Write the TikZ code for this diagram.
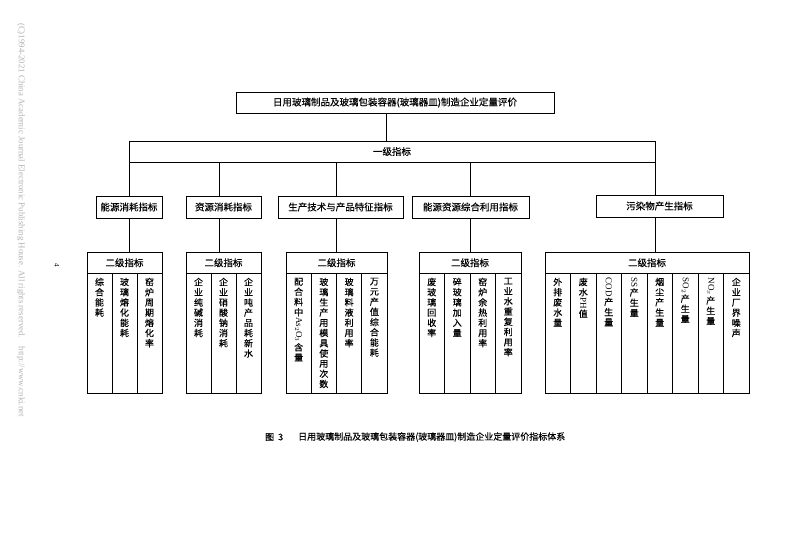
\documentclass[tikz,border=0pt]{standalone}
\usepackage{fontspec}
\setmainfont{Liberation Serif}
\newfontfamily\cjk[FakeBold=0.35]{Noto Sans CJK SC}
\newcommand{\rt}[1]{\rotatebox[origin=c]{-90}{\rmfamily #1}}
\tikzset{
  bx/.style={draw, line width=0.8pt, inner sep=0pt, font=\cjk\fontsize{9.5}{11}\selectfont},
  colbox/.style={draw, line width=0.8pt, minimum height=120pt, inner sep=0pt},
  coltext/.style={anchor=north, align=center, inner sep=0pt, font=\cjk\fontsize{9}{10.2}\selectfont},
  ln/.style={line width=0.8pt}
}
\begin{document}
\begin{tikzpicture}[x=1pt,y=-1pt]
\useasboundingbox (0,0) rectangle (793,545);
% watermark and page number
\node[rotate=-90, text=black!30, font=\rmfamily\fontsize{8.8}{10}\selectfont, inner sep=0pt] (wm) at (21,220)
  {(C)1994-2021 China Academic Journal Electronic Publishing House. All rights reserved.\hspace{9pt}http://www.cnki.net};
\node[rotate=-90, font=\rmfamily\fontsize{7}{8}\selectfont, inner sep=0pt] (pg) at (57,265) {4};
% top
\node[bx, minimum width=318pt, minimum height=21pt] (top) at (395,102.5) {日用玻璃制品及玻璃包装容器(玻璃器皿)制造企业定量评价};
\node[bx, minimum width=526pt, minimum height=21pt] (L1) at (392,151.5) {一级指标};
\draw[ln] ([xshift=-9pt]top.south) -- ([xshift=-9pt]top.south |- L1.north);
% categories
\node[bx, minimum width=66pt, minimum height=22pt] (c1) at (129,207) {能源消耗指标};
\node[bx, minimum width=75pt, minimum height=22pt] (c2) at (223.5,207) {资源消耗指标};
\node[bx, minimum width=125pt, minimum height=22pt] (c3) at (340.5,207) {生产技术与产品特征指标};
\node[bx, minimum width=117pt, minimum height=22pt] (c4) at (470.5,207) {能源资源综合利用指标};
\node[bx, minimum width=127pt, minimum height=22pt] (c5) at (659.5,206) {污染物产生指标};
% drop coordinates
\coordinate (d1) at (129,0);
\coordinate (d2) at (219,0);
\coordinate (d3) at (336.5,0);
\coordinate (d4) at (470,0);
\coordinate (d5) at (655,0);
% second-level headers
\node[bx, minimum width=75pt, minimum height=20.5pt] (hA) at (124.5,262.75) {二级指标};
\node[bx, minimum width=75pt, minimum height=20.5pt] (hB) at (223.5,262.75) {二级指标};
\node[bx, minimum width=101pt, minimum height=20.5pt] (hC) at (336.5,262.75) {二级指标};
\node[bx, minimum width=102pt, minimum height=20.5pt] (hD) at (470,262.75) {二级指标};
\node[bx, minimum width=204pt, minimum height=20.5pt] (hE) at (647,262.75) {二级指标};
% connectors
\foreach \k/\h in {1/A,2/B,3/C,4/D,5/E}{
  \draw[ln] (d\k |- L1.south) -- (d\k |- c\k.north);
  \draw[ln] (d\k |- c\k.south) -- (d\k |- h\h.north);
}
% columns
\foreach \t [count=\i] in {{综\\合\\能\\耗},{玻\\璃\\熔\\化\\能\\耗},{窑\\炉\\周\\期\\熔\\化\\率}}{
  \node[colbox, minimum width=25pt] (A\i) at ({87+(\i-0.5)*25},333) {};
  \node[coltext] (tA\i) at ([yshift=-5pt]A\i.north) {\t};
}
\foreach \t [count=\i] in {{企\\业\\纯\\碱\\消\\耗},{企\\业\\硝\\酸\\钠\\消\\耗},{企\\业\\吨\\产\\品\\耗\\新\\水}}{
  \node[colbox, minimum width=25pt] (B\i) at ({186+(\i-0.5)*25},333) {};
  \node[coltext] (tB\i) at ([yshift=-5pt]B\i.north) {\t};
}
\foreach \t [count=\i] in {{配\\合\\料\\中\\\rt{As$_2$O$_3$}\\含\\量},{玻\\璃\\生\\产\\用\\模\\具\\使\\用\\次\\数},{玻\\璃\\料\\液\\利\\用\\率},{万\\元\\产\\值\\综\\合\\能\\耗}}{
  \node[colbox, minimum width=25.25pt] (C\i) at ({286+(\i-0.5)*25.25},333) {};
  \node[coltext] (tC\i) at ([yshift=-5pt]C\i.north) {\t};
}
\foreach \t [count=\i] in {{废\\玻\\璃\\回\\收\\率},{碎\\玻\\璃\\加\\入\\量},{窑\\炉\\余\\热\\利\\用\\率},{工\\业\\水\\重\\复\\利\\用\\率}}{
  \node[colbox, minimum width=25.5pt] (D\i) at ({419+(\i-0.5)*25.5},333) {};
  \node[coltext] (tD\i) at ([yshift=-5pt]D\i.north) {\t};
}
\foreach \t [count=\i] in {{外\\排\\废\\水\\量},{废\\水\\\rt{PH}\\值},{\rt{COD}\\产\\生\\量},{\rt{SS}\\产\\生\\量},{烟\\尘\\产\\生\\量},{\rt{SO$_2$}\\产\\生\\量},{\rt{NO$_x$}\\产\\生\\量},{企\\业\\厂\\界\\噪\\声}}{
  \node[colbox, minimum width=25.5pt] (E\i) at ({545+(\i-0.5)*25.5},333) {};
  \node[coltext] (tE\i) at ([yshift=-5pt]E\i.north) {\t};
}
% caption
\node[anchor=west, inner sep=0pt, font=\cjk\fontsize{9}{11}\selectfont] (fig) at (265,437) {图\hspace{4pt}3};
\node[anchor=west, inner sep=0pt, font=\cjk\fontsize{9}{11}\selectfont] (cap) at (298,437) {日用玻璃制品及玻璃包装容器(玻璃器皿)制造企业定量评价指标体系};
\end{tikzpicture}
\end{document}
